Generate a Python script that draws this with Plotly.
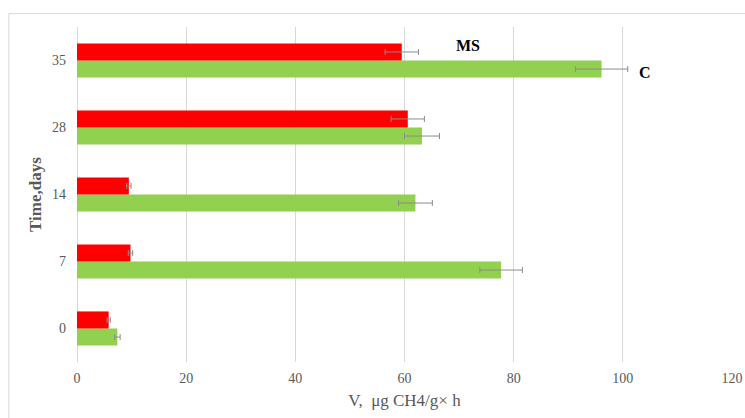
import plotly.graph_objects as go

categories = ["0", "7", "14", "28", "35"]
ms_values = [5.8, 9.8, 9.5, 60.6, 59.5]
ms_errors = [0.3, 0.4, 0.4, 3.05, 3.05]
c_values = [7.4, 77.7, 62.0, 63.2, 96.1]
c_errors = [0.5, 3.9, 3.1, 3.2, 4.8]
x_ticks = [0, 20, 40, 60, 80, 100, 120]

FONT = "Liberation Serif"
TXT = "#595959"

fig = go.Figure()
fig.add_trace(go.Bar(
    y=categories, x=c_values, orientation="h", name="C",
    marker=dict(color="#92D050", line=dict(width=0)),
    error_x=dict(type="data", array=c_errors, color="#8c8c8c", thickness=1, width=3),
))
fig.add_trace(go.Bar(
    y=categories, x=ms_values, orientation="h", name="MS",
    marker=dict(color="#FF0000", line=dict(width=0)),
    error_x=dict(type="data", array=ms_errors, color="#8c8c8c", thickness=1, width=3),
))

idx35 = categories.index("35")
fig.add_annotation(x=71.7, y=idx35, yshift=15.5, text="<b>MS</b>", showarrow=False,
                   font=dict(family=FONT, size=16, color="black"), xanchor="center")
fig.add_annotation(x=104.1, y=idx35, yshift=-11.5, text="<b>C</b>", showarrow=False,
                   font=dict(family=FONT, size=16, color="black"), xanchor="center")

fig.add_shape(type="rect", xref="paper", yref="paper", x0=-0.104, x1=1.03, y0=-0.2, y1=1.04,
              line=dict(color="#d9d9d9", width=1), fillcolor="rgba(0,0,0,0)", layer="below")

fig.update_layout(
    width=745, height=418,
    margin=dict(l=77, r=13, t=27, b=56, autoexpand=False),
    paper_bgcolor="white", plot_bgcolor="white",
    barmode="group", bargap=0.49, bargroupgap=0,
    showlegend=False,
    font=dict(family=FONT, color=TXT),
    xaxis=dict(
        range=[0, 120], tickvals=x_ticks, ticktext=[str(v) for v in x_ticks],
        showgrid=True, gridcolor="#d9d9d9", gridwidth=1,
        zeroline=True, zerolinecolor="#d9d9d9", zerolinewidth=1,
        showline=False, ticks="", tickfont=dict(size=14, color=TXT), ticklabelstandoff=6,
        title=dict(text="V,  μg CH4/g× h", font=dict(size=17, color=TXT), standoff=9),
        automargin=False, fixedrange=True,
    ),
    yaxis=dict(
        type="category", categoryorder="array", categoryarray=categories,
        range=[-0.5, len(categories) - 0.5],
        showgrid=False, showline=False, ticks="", ticklabelstandoff=10,
        tickfont=dict(size=14, color=TXT),
        title=dict(text="<b>Time,days</b>", font=dict(size=17, color=TXT), standoff=6),
        automargin=False, fixedrange=True,
    ),
)

fig.write_html("out.html", config={"displayModeBar": False},
               post_script="document.body.style.margin='0';")
